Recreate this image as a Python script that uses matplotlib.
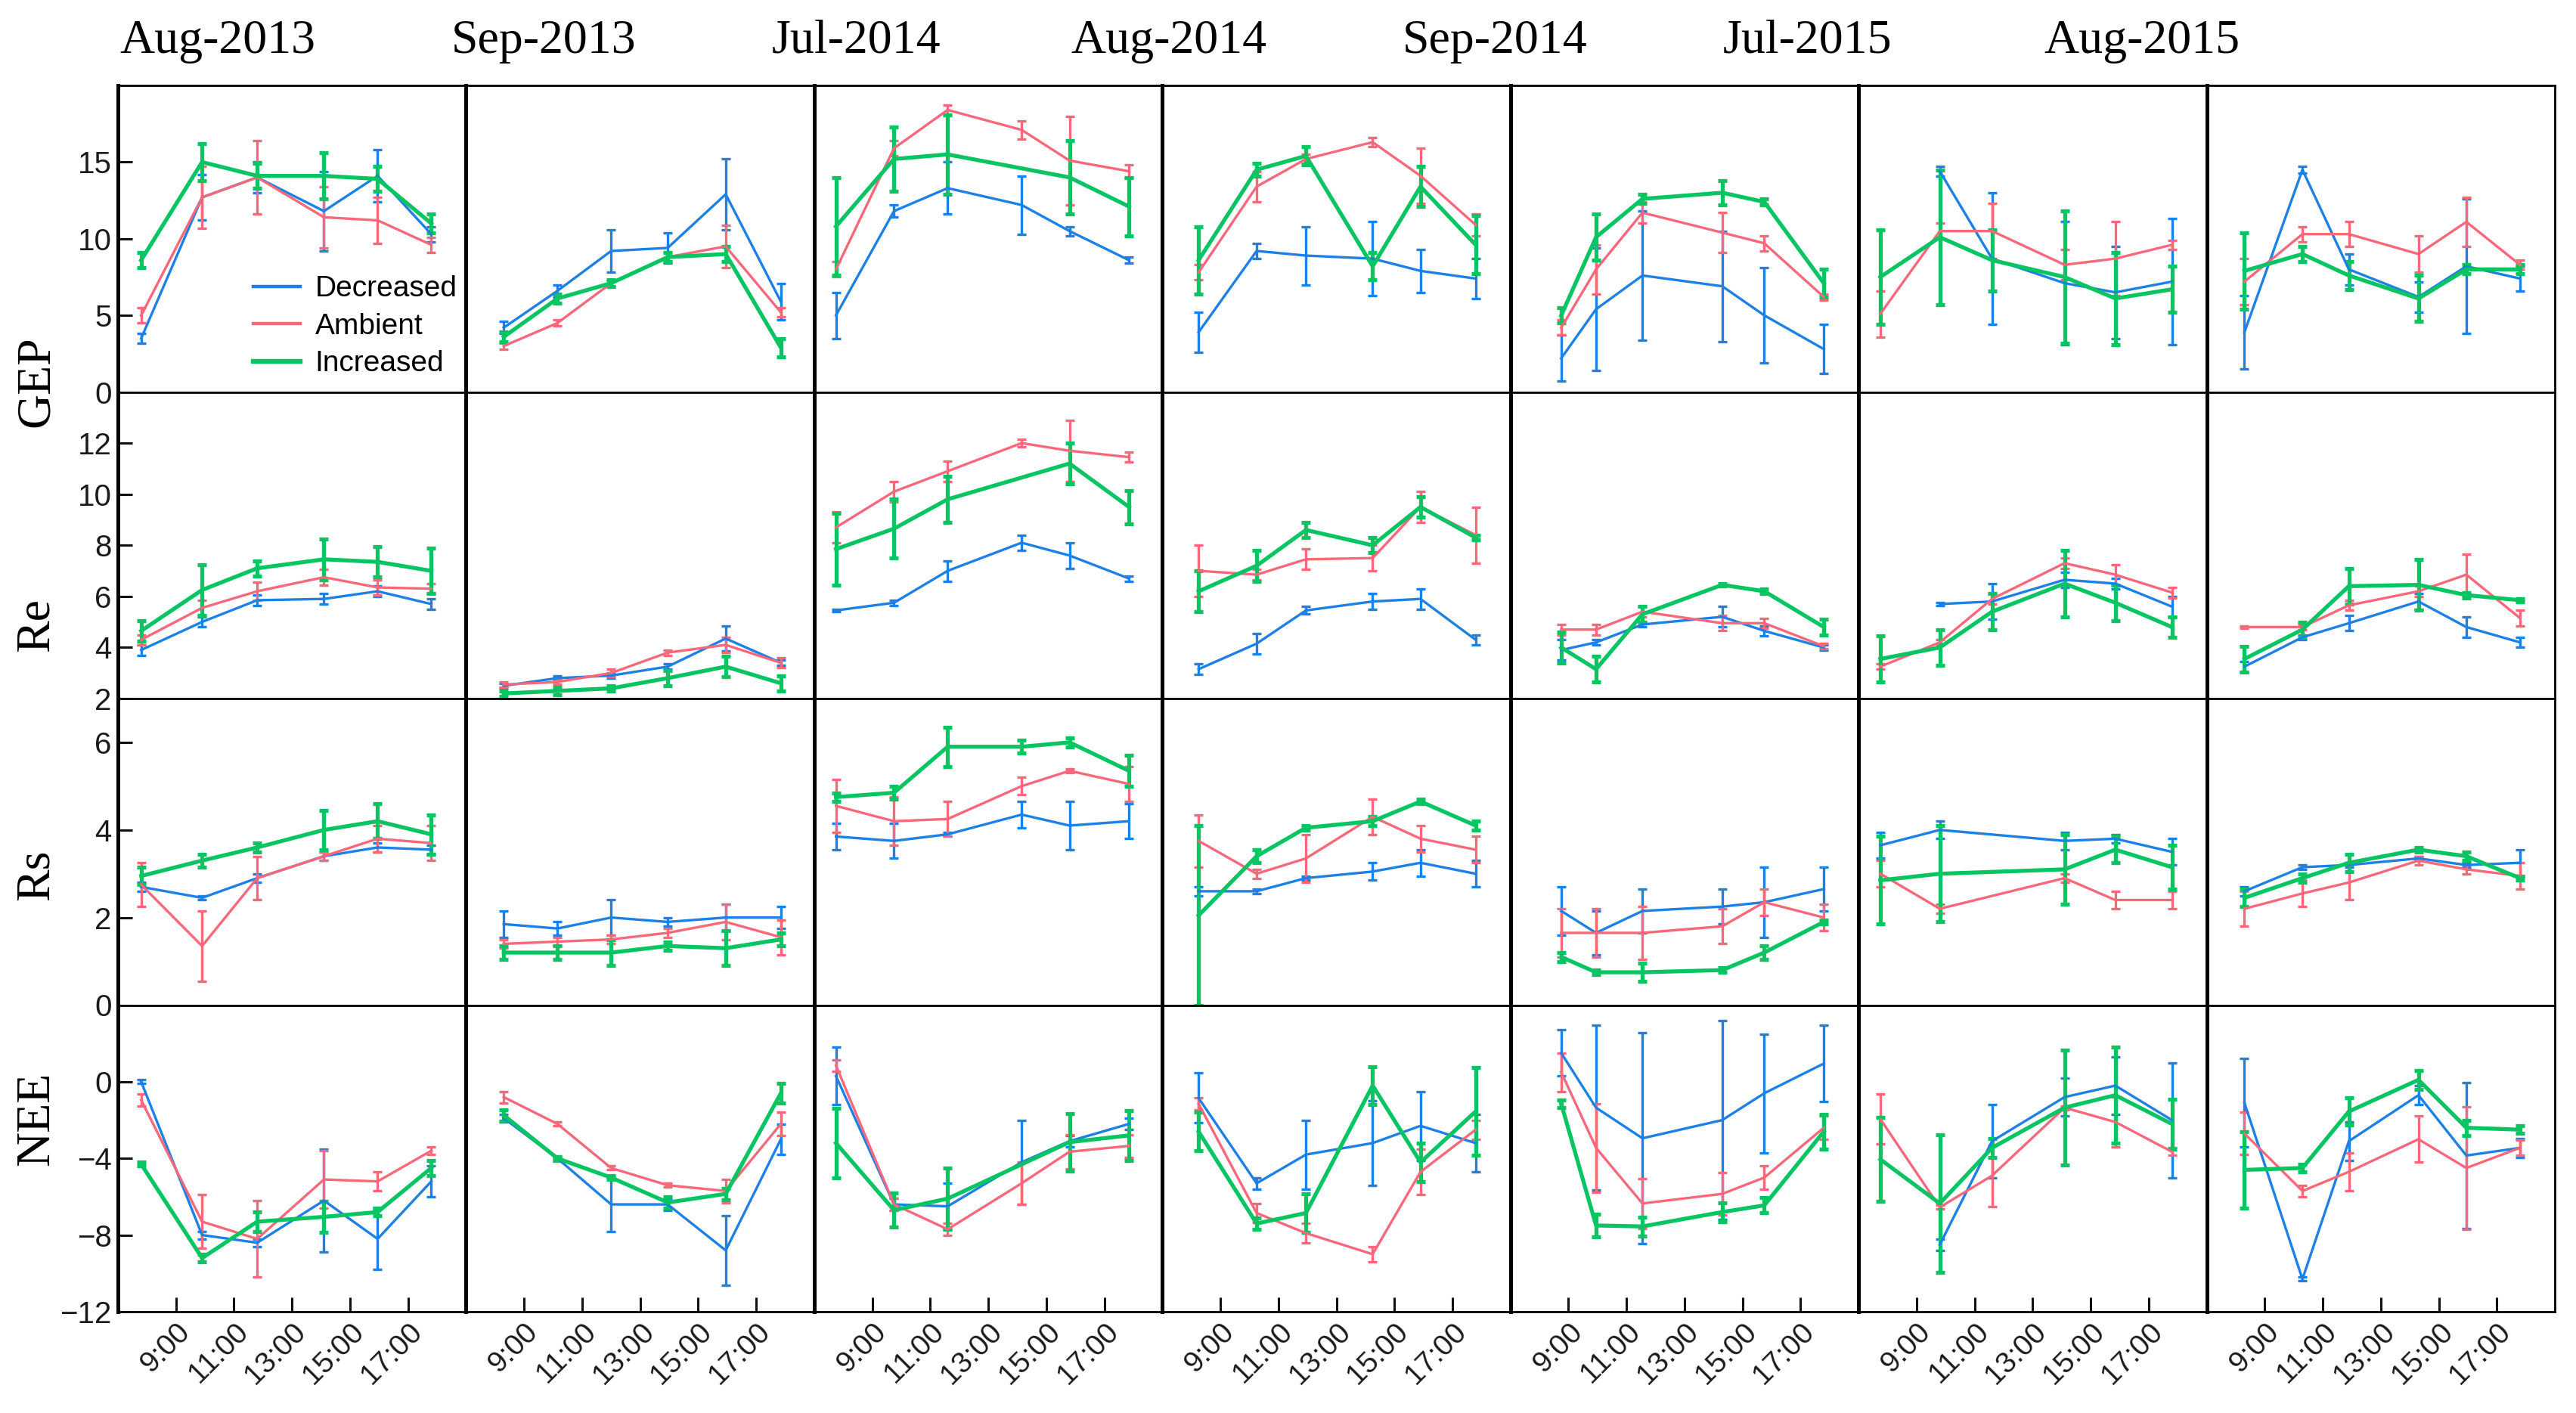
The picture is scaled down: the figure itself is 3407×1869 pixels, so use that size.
import numpy as np
import matplotlib
matplotlib.use('Agg')
import matplotlib.pyplot as plt
from matplotlib.lines import Line2D

nan = np.nan

# 月份（列）和变量（行）
months = ['Aug-2013', 'Sep-2013', 'Jul-2014', 'Aug-2014', 'Sep-2014', 'Jul-2015', 'Aug-2015']
variables = ['GEP', 'Re', 'Rs', 'NEE']
treatments = ['Decreased', 'Ambient', 'Increased']
hour_ticks = [9, 11, 13, 15, 17]
hour_labels = ['9:00', '11:00', '13:00', '15:00', '17:00']

# 每个月的观测时刻（小时）
times = [
    [7.8, 9.9, 11.8, 14.1, 15.95, 17.8],
    [8.3, 10.15, 12.0, 13.95, 15.95, 17.85],
    [7.75, 9.75, 11.6, 14.15, 15.8, 17.85],
    [8.25, 10.25, 11.95, 14.25, 15.9, 17.8],
    [8.75, 9.95, 11.55, 14.3, 15.75, 17.8],
    [7.75, 9.8, 11.6, 14.1, 15.85, 17.8],
    [8.3, 10.3, 11.9, 14.3, 15.95, 17.8],
]

# GEP
gep_dec = [[3.5, 12.7, 14.0, 11.8, 14.1, 10.3], [4.2, 6.6, 9.2, 9.4, 12.9, 5.9],
           [5.0, 11.8, 13.3, 12.2, 10.5, 8.6], [3.9, 9.2, 8.9, 8.7, 7.9, 7.4],
           [2.2, 5.4, 7.6, 6.9, 5.0, 2.8], [nan, 14.4, 8.7, 7.1, 6.5, 7.2],
           [3.9, 14.5, 8.0, 6.2, 8.2, 7.4]]
gep_dec_se = [[0.3, 1.5, 1.0, 2.6, 1.7, 0.5], [0.4, 0.4, 1.4, 1.0, 2.3, 1.2],
              [1.5, 0.4, 1.7, 1.9, 0.3, 0.2], [1.3, 0.5, 1.9, 2.4, 1.4, 1.3],
              [1.5, 4.0, 4.2, 3.6, 3.1, 1.6], [nan, 0.3, 4.3, 4.0, 3.0, 4.1],
              [2.4, 0.2, 1.0, 1.0, 4.4, 0.8]]
gep_amb = [[5.0, 12.7, 14.0, 11.4, 11.2, 9.6], [3.0, 4.5, 7.1, 8.8, 9.5, 5.2],
           [8.0, 15.9, 18.4, 17.1, 15.1, 14.4], [7.8, 13.4, 15.2, 16.3, 14.1, 10.9],
           [4.2, 8.0, 11.7, 10.4, 9.7, 6.2], [5.1, 10.5, 10.5, 8.3, 8.7, 9.6],
           [7.2, 10.3, 10.3, 9.0, 11.1, 8.3]]
gep_amb_se = [[0.5, 2.0, 2.4, 2.0, 1.5, 0.5], [0.2, 0.2, 0.2, 0.3, 1.4, 0.3],
              [0.5, 0.5, 0.3, 0.6, 2.9, 0.4], [0.5, 1.0, 0.3, 0.3, 1.8, 0.7],
              [0.5, 1.6, 0.7, 1.3, 0.5, 0.2], [1.5, 0.5, 1.8, 1.0, 2.4, 0.3],
              [1.5, 0.5, 0.8, 1.2, 1.6, 0.3]]
gep_inc = [[8.6, 15.0, 14.1, 14.1, 13.9, 11.0], [3.6, 6.1, 7.1, 8.8, 9.0, 2.9],
           [10.8, 15.2, 15.5, nan, 14.0, 12.1], [8.6, 14.5, 15.4, 8.2, 13.4, 9.6],
           [5.0, 10.1, 12.6, 13.0, 12.4, 7.1], [7.5, 10.1, 8.6, 7.5, 6.1, 6.7],
           [7.9, 9.0, 7.6, 6.1, 8.0, 8.0]]
gep_inc_se = [[0.5, 1.2, 0.8, 1.5, 0.8, 0.6], [0.3, 0.3, 0.2, 0.3, 0.5, 0.6],
              [3.2, 2.1, 2.6, nan, 2.4, 1.9], [2.2, 0.4, 0.6, 0.9, 1.3, 1.9],
              [0.5, 1.5, 0.3, 0.8, 0.2, 0.9], [3.1, 4.4, 2.0, 4.3, 3.0, 1.5],
              [2.5, 0.5, 0.9, 1.5, 0.3, 0.3]]

# Re
re_dec = [[3.9, 5.0, 5.85, 5.9, 6.2, 5.7], [2.5, 2.8, 2.9, 3.25, 4.35, 3.4],
          [5.45, 5.75, 7.0, 8.1, 7.6, 6.7], [3.15, 4.15, 5.45, 5.8, 5.9, 4.3],
          [3.9, 4.2, 4.9, 5.2, 4.65, 4.0], [nan, 5.7, 5.8, 6.65, 6.5, 5.6],
          [3.25, 4.4, 4.95, 5.8, 4.8, 4.2]]
re_dec_se = [[0.2, 0.2, 0.2, 0.2, 0.2, 0.2], [0.1, 0.1, 0.1, 0.1, 0.5, 0.1],
             [0.05, 0.1, 0.4, 0.3, 0.5, 0.1], [0.2, 0.4, 0.15, 0.3, 0.4, 0.2],
             [0.4, 0.1, 0.1, 0.4, 0.2, 0.1], [nan, 0.05, 0.7, 0.3, 0.2, 0.4],
             [0.2, 0.1, 0.3, 0.3, 0.4, 0.2]]
re_amb = [[4.3, 5.55, 6.2, 6.75, 6.35, 6.3], [2.55, 2.65, 3.0, 3.8, 4.1, 3.4],
          [8.7, 10.1, 10.9, 12.0, 11.7, 11.45], [7.0, 6.85, 7.45, 7.5, 9.5, 8.4],
          [4.7, 4.7, 5.4, 4.95, 4.95, 4.05], [3.25, 4.2, 5.9, 7.3, 6.85, 6.15],
          [4.8, 4.8, 5.65, 6.2, 6.85, 5.15]]
re_amb_se = [[0.2, 0.3, 0.35, 0.3, 0.3, 0.2], [0.1, 0.1, 0.15, 0.1, 0.3, 0.2],
             [0.6, 0.4, 0.4, 0.15, 1.2, 0.2], [1.0, 0.2, 0.4, 0.5, 0.6, 1.1],
             [0.2, 0.2, 0.2, 0.3, 0.2, 0.1], [0.1, 0.1, 0.2, 0.2, 0.4, 0.2],
             [0.05, 0.1, 0.2, 0.2, 0.8, 0.3]]
re_inc = [[4.65, 6.25, 7.1, 7.45, 7.35, 7.0], [2.2, 2.3, 2.4, 2.8, 3.25, 2.6],
          [7.85, 8.65, 9.8, nan, 11.2, 9.5], [6.2, 7.2, 8.6, 8.0, 9.5, 8.3],
          [4.0, 3.15, 5.3, 6.45, 6.2, 4.8], [3.55, 4.0, 5.4, 6.5, 5.75, 4.8],
          [3.55, 4.7, 6.4, 6.45, 6.05, 5.85]]
re_inc_se = [[0.4, 1.0, 0.3, 0.8, 0.6, 0.9], [0.1, 0.15, 0.1, 0.3, 0.4, 0.3],
             [1.4, 1.15, 0.9, nan, 0.8, 0.65], [0.8, 0.6, 0.3, 0.3, 0.4, 0.1],
             [0.6, 0.5, 0.3, 0.05, 0.1, 0.3], [0.9, 0.7, 0.7, 1.3, 0.7, 0.4],
             [0.5, 0.3, 0.7, 1.0, 0.1, 0.05]]

# Rs
rs_dec = [[2.7, 2.45, 2.9, 3.4, 3.6, 3.55], [1.85, 1.75, 2.0, 1.9, 2.0, 2.0],
          [3.85, 3.75, 3.9, 4.35, 4.1, 4.2], [2.6, 2.6, 2.9, 3.05, 3.25, 3.0],
          [2.15, 1.65, 2.15, 2.25, 2.35, 2.65], [3.65, 4.0, nan, 3.75, 3.8, 3.5],
          [2.6, 3.15, 3.2, 3.35, 3.2, 3.25]]
rs_dec_se = [[0.1, 0.05, 0.1, 0.1, 0.1, 0.1], [0.3, 0.15, 0.4, 0.1, 0.3, 0.25],
             [0.3, 0.4, 0.05, 0.3, 0.55, 0.4], [0.1, 0.05, 0.05, 0.2, 0.3, 0.3],
             [0.55, 0.5, 0.5, 0.4, 0.8, 0.5], [0.3, 0.2, nan, 0.2, 0.1, 0.3],
             [0.1, 0.05, 0.05, 0.05, 0.05, 0.3]]
rs_amb = [[2.75, 1.35, 2.9, 3.4, 3.8, 3.7], [1.4, 1.45, 1.5, 1.65, 1.9, 1.55],
          [4.55, 4.2, 4.25, 5.0, 5.35, 5.05], [3.75, 3.0, 3.35, 4.3, 3.8, 3.55],
          [1.65, 1.65, 1.65, 1.8, 2.35, 2.0], [3.0, 2.2, nan, 2.9, 2.4, 2.4],
          [2.2, 2.55, 2.8, 3.3, 3.1, 2.95]]
rs_amb_se = [[0.5, 0.8, 0.5, 0.1, 0.3, 0.4], [0.1, 0.1, 0.1, 0.1, 0.4, 0.4],
             [0.6, 0.55, 0.4, 0.2, 0.05, 0.4], [0.6, 0.1, 0.55, 0.4, 0.3, 0.3],
             [0.55, 0.55, 0.6, 0.4, 0.3, 0.3], [0.3, 0.1, nan, 0.1, 0.2, 0.2],
             [0.4, 0.3, 0.4, 0.1, 0.1, 0.3]]
rs_inc = [[2.95, 3.3, 3.6, 4.0, 4.2, 3.9], [1.2, 1.2, 1.2, 1.35, 1.3, 1.5],
          [4.75, 4.85, 5.9, 5.9, 6.0, 5.35], [2.05, 3.4, 4.05, 4.2, 4.65, 4.1],
          [1.1, 0.75, 0.75, 0.8, 1.2, 1.9], [2.85, 3.0, nan, 3.1, 3.55, 3.15],
          [2.45, 2.9, 3.25, 3.55, 3.4, 2.9]]
rs_inc_se = [[0.2, 0.15, 0.1, 0.45, 0.4, 0.45], [0.15, 0.15, 0.3, 0.1, 0.4, 0.15],
             [0.1, 0.15, 0.45, 0.15, 0.1, 0.35], [2.05, 0.15, 0.05, 0.1, 0.05, 0.1],
             [0.1, 0.05, 0.2, 0.05, 0.15, 0.05], [1.0, 1.1, nan, 0.8, 0.3, 0.5],
             [0.2, 0.1, 0.2, 0.05, 0.1, 0.05]]

# NEE
nee_dec = [[0.0, -8.0, -8.4, -6.2, -8.2, -5.2], [-1.9, -4.0, -6.4, -6.4, -8.8, -3.0],
           [0.3, -6.4, -6.5, -4.2, -3.1, -2.2], [-0.85, -5.3, -3.8, -3.2, -2.3, -3.2],
           [1.5, -1.35, -2.95, -2.0, -0.6, 0.95], [nan, -8.5, -3.1, -0.8, -0.2, -2.0],
           [-1.1, -10.3, -3.1, -0.7, -3.85, -3.45]]
nee_dec_se = [[0.1, 0.2, 0.2, 2.7, 1.6, 0.8], [0.2, 0.1, 1.4, 0.3, 1.8, 0.8],
              [1.5, 0.3, 1.2, 2.2, 0.3, 0.3], [1.3, 0.3, 1.8, 2.2, 1.8, 1.5],
              [1.2, 4.3, 5.5, 5.2, 3.1, 2.0], [nan, 0.3, 1.9, 1.0, 1.5, 3.0],
              [2.3, 0.1, 1.0, 0.5, 3.8, 0.5]]
nee_amb = [[-0.95, -7.3, -8.2, -5.1, -5.2, -3.6], [-0.8, -2.2, -4.5, -5.4, -5.7, -2.2],
           [0.85, -6.4, -7.7, -5.3, -3.65, -3.35], [-1.15, -6.85, -7.9, -9.0, -4.7, -2.5],
           [0.5, -3.45, -6.35, -5.85, -5.0, -2.4], [-1.95, -6.55, -4.9, -1.35, -2.1, -3.65],
           [-2.7, -5.7, -4.7, -3.0, -4.5, -3.45]]
nee_amb_se = [[0.3, 1.4, 2.0, 1.5, 0.5, 0.2], [0.3, 0.1, 0.1, 0.1, 0.6, 0.6],
              [0.3, 0.3, 0.3, 1.1, 0.9, 0.6], [0.3, 0.5, 0.5, 0.4, 1.2, 0.5],
              [1.0, 2.3, 1.3, 1.1, 0.6, 0.6], [1.3, 0.1, 1.6, 0.1, 1.3, 0.2],
              [1.1, 0.3, 1.0, 1.2, 3.2, 0.4]]
nee_inc = [[-4.3, -9.2, -7.3, -7.05, -6.8, -4.5], [-1.75, -4.0, -5.0, -6.3, -5.85, -0.6],
           [-3.2, -6.7, -6.1, nan, -3.15, -2.8], [-2.6, -7.4, -6.85, -0.2, -4.2, -1.55],
           [-1.15, -7.5, -7.55, -6.8, -6.45, -2.6], [-4.05, -6.35, -3.45, -1.35, -0.7, -2.2],
           [-4.6, -4.5, -1.55, 0.1, -2.4, -2.5]]
nee_inc_se = [[0.1, 0.2, 0.5, 0.8, 0.2, 0.4], [0.3, 0.1, 0.1, 0.3, 0.3, 0.5],
              [1.8, 0.9, 1.6, nan, 1.5, 1.3], [1.0, 0.3, 1.0, 1.0, 1.0, 2.3],
              [0.2, 0.6, 0.5, 0.5, 0.4, 0.9], [2.2, 3.6, 0.5, 3.0, 2.5, 1.3],
              [2.0, 0.2, 0.7, 0.5, 0.4, 0.2]]

series = [
    [(gep_dec, gep_dec_se), (gep_amb, gep_amb_se), (gep_inc, gep_inc_se)],
    [(re_dec, re_dec_se), (re_amb, re_amb_se), (re_inc, re_inc_se)],
    [(rs_dec, rs_dec_se), (rs_amb, rs_amb_se), (rs_inc, rs_inc_se)],
    [(nee_dec, nee_dec_se), (nee_amb, nee_amb_se), (nee_inc, nee_inc_se)],
]

ylims = [(0, 20), (2, 14), (0, 7), (-12, 4)]
yticks = [[0, 5, 10, 15], [2, 4, 6, 8, 10, 12], [0, 2, 4, 6], [-12, -8, -4, 0]]

colors = ['#1c80e4', '#f7687a', '#08c463']
widths = [1.2, 1.2, 1.9]

W, H = 3407, 1869
fig = plt.figure(figsize=(W / 200, H / 200), dpi=200)
gs = fig.add_gridspec(4, 7, left=156 / W, right=3379 / W, top=1 - 113 / H,
                      bottom=1 - 1735 / H, wspace=0, hspace=0)

sans = 'Liberation Sans'
serif = 'Liberation Serif'

for r in range(4):
    for c in range(7):
        ax = fig.add_subplot(gs[r, c])
        x = np.array(times[c])
        for k in range(3):
            vals, errs = series[r][k]
            y = np.array(vals[c], dtype=float)
            e = np.array(errs[c], dtype=float)
            m = ~np.isnan(y)
            ax.errorbar(x[m], y[m], yerr=e[m], color=colors[k], lw=widths[k],
                        elinewidth=widths[k], capsize=2.2, capthick=widths[k])
        ax.set_xlim(7, 19)
        ax.set_ylim(*ylims[r])
        ax.set_xticks(hour_ticks)
        ax.set_yticks(yticks[r])
        ax.tick_params(direction='in', length=7, width=1.1, colors='#111',
                       labelcolor='#1a1a1a', labelsize=14.5, pad=3)
        for sp in ax.spines.values():
            sp.set_linewidth(1.0)
        ax.spines['left'].set_linewidth(1.8)
        if c > 0:
            ax.tick_params(left=False, labelleft=False)
        else:
            for lab in ax.get_yticklabels():
                lab.set_family(sans)
        if r < 3:
            ax.tick_params(bottom=False, labelbottom=False)
        else:
            ax.set_xticklabels(hour_labels, rotation=45, ha='right',
                               rotation_mode='anchor', family=sans, size=14)
        if r == 0 and c == 0:
            # 图例只画线段
            handles = [Line2D([], [], color=colors[k], lw=widths[k] + 0.4)
                       for k in range(3)]
            ax.legend(handles, treatments, loc='lower left',
                      bbox_to_anchor=(0.33, -0.02), frameon=False,
                      handlelength=1.6, handletextpad=0.5, labelspacing=0.35,
                      borderaxespad=0.3, prop={'family': sans, 'size': 14})

# 列标题（月份）
month_x = [288, 719, 1132, 1546, 1977, 2390, 2833]
for name, px in zip(months, month_x):
    fig.text(px / W, 1 - 70 / H, name, ha='center', va='baseline',
             family=serif, size=23)

# 行标题（变量）
label_y = [505, 827, 1157, 1480]
for name, py in zip(variables, label_y):
    fig.text(49 / W, 1 - py / H, name, rotation=90, ha='center', va='center',
             family=serif, size=23)

fig.savefig('out.png', dpi=200)
